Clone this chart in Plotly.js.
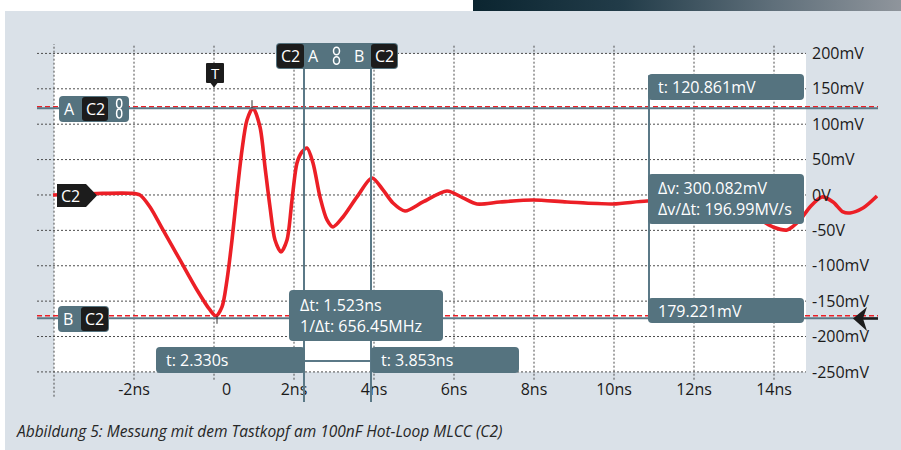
<!DOCTYPE html>
<html><head><meta charset="utf-8">
<script src="https://cdn.plot.ly/plotly-3.0.1.min.js"></script>
<style>
html,body{margin:0;padding:0;background:#fff;width:901px;height:450px;overflow:hidden;}
#bg{position:absolute;left:5px;top:11px;width:896px;height:439px;background:#dae1e8;}
#bar{position:absolute;left:473px;top:0;width:428px;height:11px;background:linear-gradient(to right,#0b2530 0%,#223c49 35%,#5f6f7a 70%,#8f959c 100%);}
#chart{position:absolute;left:0;top:0;width:901px;height:450px;}
</style></head><body>
<div id="bg"></div><div id="bar"></div><div id="chart"></div>
<script>
// ---------- data ----------
const timeNs = [-4.025,-2.925,-2.1,-1.85,-1.6,-1.275,-0.85,-0.425,-0.1,0.05,0.2,0.325,0.45,0.575,0.7,0.825,0.975,1.15,1.275,1.4,1.525,1.675,1.825,1.95,2.075,2.2,2.325,2.475,2.65,2.825,2.975,3.225,3.575,3.95,4.225,4.475,4.775,5.225,5.825,6.225,6.575,7.15,7.975,8.825,9.975,10.825,11.9,12.9,13.65,13.975,14.325,14.65,14.9,15.2,15.475,15.725,15.9,16.225,16.575];
const voltMv = [0,2.1,2.4,0,-17,-49.4,-91.8,-134.2,-162.5,-171,-158.2,-120,-63.6,2.8,63.6,106,122.9,96,39.6,-17,-63.6,-80.5,-63.6,-7,45.2,60.8,66.4,45.2,-2.8,-35.3,-45.2,-31.1,-2.8,24,7.1,-11.3,-22.6,-9.9,5.7,-4.2,-12.7,-9.9,-7.1,-9.9,-12.7,-8.5,-9.9,-18.4,-35.3,-45.2,-49.4,-35.3,-17,-2.8,-9.9,-24,-25.4,-18.4,-1.4];
const xTickVals = [-2,0,2,4,6,8,10,12,14];
const xTickText = ['-2ns','\u00a0\u00a0\u00a0\u00a0\u00a0\u00a00','2ns','4ns','6ns','8ns','10ns','12ns','14ns'];
const yTickVals = [200,150,100,50,0,-50,-100,-150,-200,-250];
const yTickText = ['200mV','150mV','100mV','50mV','0V','-50V','-100mV','-150mV','-200mV','-250mV'];
const gridTimes = [-4,-2,0,2,4,6,8,10,12,14];
const cursorTimes = [2.25, 3.925];      // ns (A, B vertical cursors)
const cursorLevels = [122.5, -174.2];   // mV (A, B horizontal cursors)
const levelMarks = [124.8, -170.5];     // mV (red dashed levels)
const deltaCursorTime = 10.875;          // ns
const pointMarksT = [0.95, 0.075];      // ns (peak / trough tick)
const pointMarksV = [122.9, -171];      // mV
const boxTexts = {
  tA: 't: 2.330s', tB: 't: 3.853ns',
  dt: '\u0394t: 1.523ns<br>1/\u0394t: 656.45MHz',
  tv: 't: 120.861mV',
  dv: '\u0394v: 300.082mV<br>\u0394v/\u0394t: 196.99MV/s',
  vb: '179.221mV'
};
const caption = 'Abbildung 5: Messung mit dem Tastkopf am 100nF Hot-Loop MLCC (C2)';

// ---------- geometry ----------
const L=37, R=878, T=44, B=402, W=R-L, H=B-T;
const X_RANGE=[-4.425,16.6], Y_RANGE=[-292.5,213.3];
const whiteRight = 14.8;
const px = x => (x-L)/W;
const py = y => (B-y)/H;
const SLATE='#55737f', CURSOR='#5b7987', CHIP='#1c1c1c', RED='#ec1f26';
const FONT='Open Sans, sans-serif';

function rrect(x0,y0,x1,y1,r,fill){
  const P=(x,y)=>px(x).toFixed(5)+','+py(y).toFixed(5);
  const path='M'+P(x0+r,y0)+' L'+P(x1-r,y0)+' Q'+P(x1,y0)+' '+P(x1,y0+r)+
    ' L'+P(x1,y1-r)+' Q'+P(x1,y1)+' '+P(x1-r,y1)+' L'+P(x0+r,y1)+' Q'+P(x0,y1)+' '+P(x0,y1-r)+
    ' L'+P(x0,y0+r)+' Q'+P(x0,y0)+' '+P(x0+r,y0)+' Z';
  return {type:'path',xref:'paper',yref:'paper',path:path,fillcolor:fill,line:{width:0},layer:'above'};
}
function poly(pts,fill){
  const path='M'+pts.map(p=>px(p[0]).toFixed(5)+','+py(p[1]).toFixed(5)).join(' L')+' Z';
  return {type:'path',xref:'paper',yref:'paper',path:path,fillcolor:fill,line:{width:0},layer:'above'};
}
function ring(cx,cy,rx,ry){
  return {type:'circle',xref:'paper',yref:'paper',x0:px(cx-rx),x1:px(cx+rx),y0:py(cy+ry),y1:py(cy-ry),
    line:{color:'#fff',width:1.5},fillcolor:'rgba(0,0,0,0)',layer:'above'};
}
function pline(x0,y0,x1,y1,color,width){
  return {type:'line',xref:'paper',yref:'paper',x0:px(x0),x1:px(x1),y0:py(y0),y1:py(y1),line:{color:color,width:width},layer:'above'};
}
function txt(x,y,s,opt){
  opt=opt||{};
  return {xref:'paper',yref:'paper',x:px(x),y:py(y),text:s,showarrow:false,
    xanchor:opt.xa||'center',yanchor:'middle',align:'left',
    font:{family:FONT,size:opt.size||16,color:opt.color||'#fff'}};
}

const shapes=[];
// white screen area
shapes.push({type:'rect',xref:'x',yref:'y',x0:gridTimes[0],x1:whiteRight,y0:yTickVals[yTickVals.length-1],y1:yTickVals[0],
  fillcolor:'#fff',line:{width:0},layer:'below'});
const gridLine={color:'#4d4d4d',width:1,dash:'2px,2px'};
yTickVals.forEach(v=>shapes.push({type:'line',xref:'x',yref:'y',x0:X_RANGE[0],x1:whiteRight,y0:v,y1:v,line:gridLine,layer:'below'}));
gridTimes.forEach((t,i)=>shapes.push({type:'line',xref:'x',yref:'y',x0:t,x1:t,y0:i===0?-285:-261,y1:Y_RANGE[1],line:gridLine,layer:'below'}));
// red dashed level lines
levelMarks.forEach(v=>shapes.push({type:'line',xref:'paper',yref:'y',x0:0,x1:1,y0:v,y1:v,line:{color:RED,width:1.5,dash:'5px,3px'},layer:'above'}));
// horizontal cursors
cursorLevels.forEach(v=>shapes.push({type:'line',xref:'paper',yref:'y',x0:0,x1:1,y0:v,y1:v,line:{color:CURSOR,width:2},layer:'above'}));
// vertical cursors
cursorTimes.forEach(t=>shapes.push({type:'line',xref:'x',yref:'y',x0:t,x1:t,y0:Y_RANGE[0],y1:178,line:{color:CURSOR,width:2},layer:'above'}));
shapes.push({type:'line',xref:'x',yref:'y',x0:deltaCursorTime,x1:deltaCursorTime,y0:-176,y1:169,line:{color:CURSOR,width:2},layer:'above'});
shapes.push({type:'line',xref:'x',yref:'y',x0:cursorTimes[0],x1:cursorTimes[1],y0:-234.5,y1:-234.5,line:{color:CURSOR,width:2},layer:'above'});
// peak / trough ticks
shapes.push({type:'line',xref:'x',yref:'y',x0:pointMarksT[0],x1:pointMarksT[0],y0:pointMarksV[0],y1:pointMarksV[0]+11,line:{color:'#333',width:1},layer:'above'});
shapes.push({type:'line',xref:'x',yref:'y',x0:pointMarksT[1],x1:pointMarksT[1],y0:pointMarksV[1],y1:pointMarksV[1]-11,line:{color:'#333',width:1},layer:'above'});

// boxes
shapes.push(rrect(276,43,398,69,4,SLATE));
shapes.push(rrect(277,44,304,68,3,CHIP));
shapes.push(rrect(371,44,397,68,3,CHIP));
shapes.push(rrect(206,63,224,83,1,CHIP));
shapes.push(poly([[210.5,83],[217.5,83],[214,87.5]],CHIP));
shapes.push(rrect(59,96,129,122,4,SLATE));
shapes.push(rrect(82,97,108,121,3,CHIP));
shapes.push(rrect(58,306,109,332,4,SLATE));
shapes.push(rrect(81,307,108,331,3,CHIP));
shapes.push(poly([[57,184],[86,184],[97,195.5],[86,207],[57,207]],CHIP));
shapes.push(poly([[853,318.5],[867,307],[863,318.5],[867,331]],CHIP));
shapes.push(pline(855,318.5,878,318.5,CHIP,2.5));
shapes.push(rrect(289,290,443,341,4,SLATE));
shapes.push(rrect(156,347,305,373,4,SLATE));
shapes.push(rrect(371,347,519,373,4,SLATE));
shapes.push(rrect(648,74,804,100,4,SLATE));
shapes.push(rrect(648,174,804,224,4,SLATE));
shapes.push(rrect(648,298,804,323,4,SLATE));
// link icons
shapes.push(ring(336.5,51,3,3.8)); shapes.push(ring(336.5,60.5,3,3.8));
shapes.push(ring(119.2,103.5,2.6,4.4)); shapes.push(ring(119.2,113.5,2.6,4.4));

const annotations=[
  txt(290.5,56,'C2'), txt(313,56,'A'), txt(358.5,56,'B'), txt(384,56,'C2'),
  txt(215,73,'T',{size:15}),
  txt(69,109,'A'), txt(95,109,'C2'),
  txt(68,319,'B'), txt(94.5,319,'C2'),
  txt(70,195.5,'C2'),
  txt(298,315.5,boxTexts.dt,{xa:'left'}),
  txt(164,360,boxTexts.tA,{xa:'left'}),
  txt(379,360,boxTexts.tB,{xa:'left'}),
  txt(656,87,boxTexts.tv,{xa:'left'}),
  txt(656,199,boxTexts.dv,{xa:'left'}),
  txt(656,310.5,boxTexts.vb,{xa:'left'}),
  {xref:'paper',yref:'paper',x:px(14),y:py(431),text:'<i>'+caption+'</i>',showarrow:false,xanchor:'left',yanchor:'middle',
   font:{family:FONT,size:15.5,color:'#262626'}}
];

const trace={x:timeNs,y:voltMv,type:'scatter',mode:'lines',line:{color:RED,width:3.6,shape:'spline',smoothing:0.8},hoverinfo:'skip'};

const layout={
  width:901,height:450,margin:{l:L,r:901-R,t:T,b:450-B},
  paper_bgcolor:'rgba(0,0,0,0)',plot_bgcolor:'rgba(0,0,0,0)',
  showlegend:false,
  xaxis:{range:X_RANGE,anchor:'free',position:py(372),showgrid:false,zeroline:false,showline:false,ticks:'',ticklabelstandoff:6,
    tickmode:'array',tickvals:xTickVals,ticktext:xTickText,tickfont:{family:FONT,size:16,color:'#1a1a1a'},fixedrange:true},
  yaxis:{range:Y_RANGE,side:'right',anchor:'free',position:px(806),showgrid:false,zeroline:false,showline:false,ticks:'',ticklabelstandoff:5,
    tickmode:'array',tickvals:yTickVals,ticktext:yTickText,tickfont:{family:FONT,size:16,color:'#1a1a1a'},fixedrange:true},
  shapes:shapes,annotations:annotations
};
Plotly.newPlot('chart',[trace],layout,{displayModeBar:false,staticPlot:true});
</script></body></html>
